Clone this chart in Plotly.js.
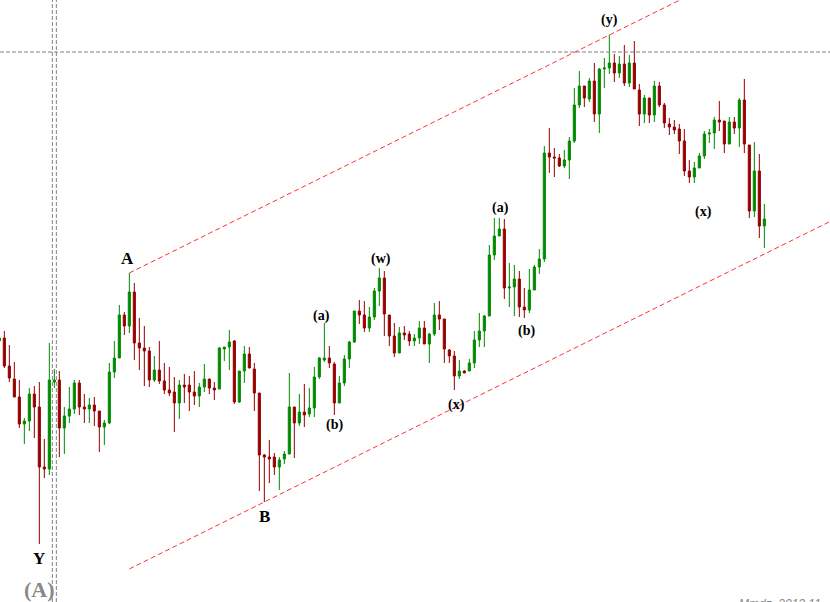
<!DOCTYPE html>
<html>
<head>
<meta charset="utf-8">
<script src="https://cdn.plot.ly/plotly-3.0.1.min.js"></script>
<style>
html,body{margin:0;padding:0;background:#fff;}
#chart{width:830px;height:602px;}
</style>
</head>
<body>
<div id="chart"></div>
<script>
// Candle data (index -1 .. 152); price units are arbitrary (chart has no axis)
const openP = [259,262,234,221,203,176,179,206,193,133,131,218,220,172,184,191,217,193,191,195,189,173,177,228,242,285,274,308,257,252,249,220,230,219,210,208,197,215,215,208,204,213,221,212,211,251,253,259,198,229,246,231,207,145,143,143,133,141,146,193,177,188,186,192,223,240,242,236,197,217,241,258,289,285,272,283,309,322,285,264,247,267,266,259,262,272,256,266,285,281,250,244,224,229,229,237,260,269,284,345,364,371,312,313,321,293,290,310,333,341,447,443,442,434,440,459,495,514,501,519,486,531,532,537,527,536,517,537,510,486,502,485,514,495,476,473,471,459,429,423,432,444,466,467,480,479,456,478,472,500,455,389,429,374];
const highP = [267,269,255,238,220,182,212,214,218,161,257,231,229,193,213,220,220,206,202,203,189,180,237,259,295,288,327,317,282,274,253,244,259,237,233,223,220,226,224,229,217,236,221,218,253,253,270,260,229,254,253,237,207,146,160,147,143,149,227,193,206,216,212,233,243,277,254,238,224,245,259,289,300,299,293,312,332,329,285,277,273,274,269,266,279,279,267,297,299,281,251,249,240,230,241,269,287,285,355,382,382,381,337,335,329,312,331,335,351,454,472,452,446,450,463,512,529,514,522,537,532,542,565,546,544,555,545,559,516,505,502,519,518,497,482,480,476,471,440,438,447,469,471,483,499,479,483,483,502,521,455,458,446,396];
const lowP = [255,232,218,203,172,156,169,162,56,122,125,212,143,146,177,186,185,177,177,174,148,155,176,222,242,265,267,240,230,214,213,218,216,206,204,168,181,197,189,195,193,208,206,200,211,239,230,196,197,217,232,189,109,98,117,125,110,136,146,142,174,173,183,183,221,238,232,185,197,214,232,257,276,268,268,280,294,264,254,243,247,260,254,254,256,256,237,264,270,237,237,210,221,227,229,232,253,253,284,340,364,301,293,284,283,282,287,310,326,338,427,423,433,432,421,457,492,493,498,478,467,512,526,518,522,514,513,511,474,477,477,478,493,472,465,466,446,424,417,417,432,441,457,451,469,447,456,466,453,447,382,383,362,352];
const closeP = [262,234,222,203,176,179,206,193,133,131,220,220,172,184,191,217,193,191,195,189,173,177,228,242,285,274,308,257,252,249,220,230,219,210,207,197,215,213,208,204,213,221,212,210,252,253,258,198,229,246,232,207,145,143,141,133,140,146,193,177,188,185,192,223,242,242,237,197,217,241,258,289,285,272,283,309,322,286,264,247,267,265,259,262,272,256,266,285,281,251,244,224,229,227,237,260,269,284,345,364,371,312,313,321,293,290,310,333,341,447,443,442,434,440,459,495,514,502,519,486,531,532,537,527,536,517,537,511,486,502,485,514,495,477,473,470,459,429,423,432,444,466,467,480,478,456,478,472,500,456,389,429,374,381];
const idx = openP.map((_, i) => i - 1);

// Wave labels: [text, candle position, price level]
const waveText  = ["A","B","Y","(a)","(b)","(w)","(x)","(a)","(b)","(y)","(x)"];
const waveX     = [24.7,52.1,6.9,63.5,66.1,75.3,90.5,99.3,104.5,121.1,139.9];
const waveY     = [342,84,42,284,175,341,195,392,269,580,388];
const waveSize  = [17,17,17,14,14,14,14,14,14,14,14];

// Channel anchors (candle indices)
const anchorA = 25, anchorB = 52, anchorTop = 121;
// Crosshair
const crossX = [9.6, 10.4];
const crossY = 548;

const xr = [-0.866, 165.134];
const yr = [-2, 600];

const pos = i => i + 1; // array position for candle index
const slope = (highP[pos(anchorTop)] - highP[pos(anchorA)]) / (anchorTop - anchorA);
const upperY0 = highP[pos(anchorA)];
const lowerAtA = lowP[pos(anchorB)] - slope * (anchorB - anchorA);
const xEnd = xr[1] + 2;

const trace = {
  type: 'candlestick',
  x: idx, open: openP, high: highP, low: lowP, close: closeP,
  increasing: {line: {color: '#008a00', width: 1}, fillcolor: '#008a00'},
  decreasing: {line: {color: '#960000', width: 1}, fillcolor: '#960000'},
  whiskerwidth: 0,
  hoverinfo: 'skip',
  showlegend: false
};

const shapes = [
  {type:'line', xref:'x', yref:'y', x0:anchorA, y0:upperY0, x1:xEnd, y1:upperY0 + slope*(xEnd-anchorA),
   line:{color:'#ff3333', width:1, dash:'5px,3px'}},
  {type:'line', xref:'x', yref:'y', x0:anchorA, y0:lowerAtA, x1:xEnd, y1:lowerAtA + slope*(xEnd-anchorA),
   line:{color:'#ff3333', width:1, dash:'5px,3px'}},
  {type:'line', xref:'paper', yref:'y', x0:0, x1:1, y0:crossY, y1:crossY,
   line:{color:'#808080', width:1, dash:'4px,2px'}},
];
crossX.forEach(cx => shapes.push({type:'line', xref:'x', yref:'paper', x0:cx, x1:cx, y0:0, y1:1,
   line:{color:'#808080', width:1, dash:'4px,2px'}}));

const annotations = waveText.map((t, i) => ({
  x: waveX[i], y: waveY[i], xref:'x', yref:'y', text: t, showarrow:false,
  font:{family:'Liberation Serif, Times New Roman, serif', size: waveSize[i], color:'#000', weight:'bold'}
}));
annotations.push({x:7.1, y:11, xref:'x', yref:'y', text:'(A)', showarrow:false,
  font:{family:'Liberation Serif, Times New Roman, serif', size:22, color:'#888', weight:'bold'}});
annotations.push({x:737/830, y:0.012, xref:'paper', yref:'paper', xanchor:'left', yanchor:'top',
  text:'Mmdz, 2013.11', showarrow:false,
  font:{family:'Liberation Sans, Arial, sans-serif', size:12, color:'#888', style:'italic'}});

const layout = {
  width:830, height:602,
  margin:{l:0, r:0, t:0, b:0},
  paper_bgcolor:'#fff', plot_bgcolor:'#fff',
  xaxis:{range:xr, showgrid:false, zeroline:false, showticklabels:false, ticks:'', showline:false,
         rangeslider:{visible:false}, fixedrange:true},
  yaxis:{range:yr, showgrid:false, zeroline:false, showticklabels:false, ticks:'', showline:false, fixedrange:true},
  boxgap:0.4, boxgroupgap:0.3,
  shapes: shapes,
  annotations: annotations,
  showlegend:false
};

Plotly.newPlot('chart', [trace], layout, {displayModeBar:false, staticPlot:true});
</script>
</body>
</html>
